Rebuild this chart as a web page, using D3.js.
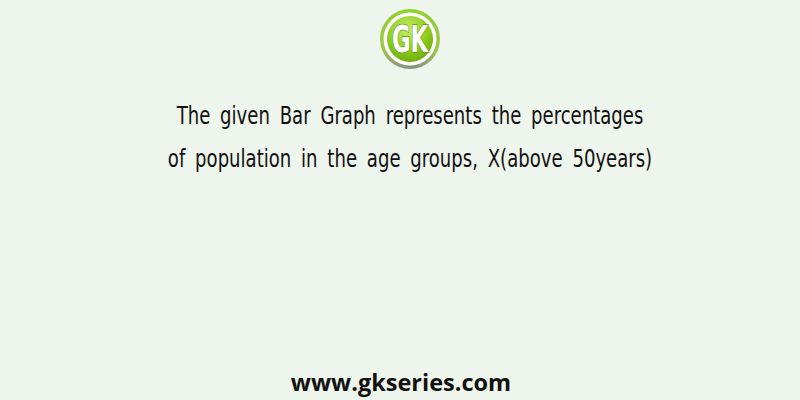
<!DOCTYPE html>
<html>
<head>
<meta charset="utf-8">
<script src="https://cdn.jsdelivr.net/npm/d3@7"></script>
<style>
  body { margin: 0; background: #eef5ec; }
</style>
</head>
<body>
<div id="card"></div>
<script>
// text content of the card
var titleLines = ["The given Bar Graph represents the percentages",
                  "of population in the age groups, X(above 50years)"];
var logoText = "GK";
var siteUrl = "www.gkseries.com";

var width = 800, height = 400;

var svg = d3.select("#card").append("svg")
    .attr("width", width)
    .attr("height", height);

svg.append("rect")
    .attr("width", width)
    .attr("height", height)
    .attr("fill", "#eef5ec");

var defs = svg.append("defs");
var grad = defs.append("radialGradient")
    .attr("id", "gkfill")
    .attr("cx", "45%").attr("cy", "30%").attr("r", "75%");
grad.append("stop").attr("offset", "0%").attr("stop-color", "#c8ee6a");
grad.append("stop").attr("offset", "60%").attr("stop-color", "#8ccc1c");
grad.append("stop").attr("offset", "100%").attr("stop-color", "#6aa80c");

var ring = defs.append("linearGradient")
    .attr("id", "ring")
    .attr("x1", 0).attr("y1", 0).attr("x2", 0).attr("y2", 1);
ring.append("stop").attr("offset", "0%").attr("stop-color", "#8fd12a");
ring.append("stop").attr("offset", "70%").attr("stop-color", "#9bc64a");
ring.append("stop").attr("offset", "100%").attr("stop-color", "#8a8f86");

// logo
var logo = svg.append("g").attr("transform", "translate(410,39)");
logo.append("circle").attr("r", 30).attr("fill", "url(#ring)");
logo.append("circle").attr("r", 26.5).attr("fill", "#ffffff");
logo.append("circle").attr("r", 23).attr("fill", "url(#gkfill)");
logo.append("text")
    .attr("text-anchor", "middle")
    .attr("transform", "translate(0,13) scale(0.68,1)")
    .attr("font-family", "'DejaVu Sans Condensed', sans-serif")
    .attr("font-weight", "bold")
    .attr("font-size", 37)
    .attr("fill", "#ffffff")
    .attr("stroke", "#5f9a10")
    .attr("stroke-width", 1.4)
    .attr("paint-order", "stroke")
    .text(logoText);

// title, horizontally squeezed to match the condensed face
svg.append("g")
    .attr("transform", "translate(410,0) scale(0.82,1)")
    .selectAll("text")
    .data(titleLines)
    .enter().append("text")
    .attr("x", 0)
    .attr("y", function (d, i) { return 124 + i * 43; })
    .attr("text-anchor", "middle")
    .attr("font-family", "'DejaVu Sans Condensed', sans-serif")
    .attr("font-size", 24.5)
    .attr("word-spacing", 5)
    .attr("fill", "#111111")
    .text(function (d) { return d; });

// footer url
svg.append("text")
    .attr("x", 401)
    .attr("y", 391)
    .attr("text-anchor", "middle")
    .attr("font-family", "'Open Sans', sans-serif")
    .attr("font-weight", "bold")
    .attr("font-size", 23.5)
    .attr("fill", "#111111")
    .text(siteUrl);
</script>
</body>
</html>
